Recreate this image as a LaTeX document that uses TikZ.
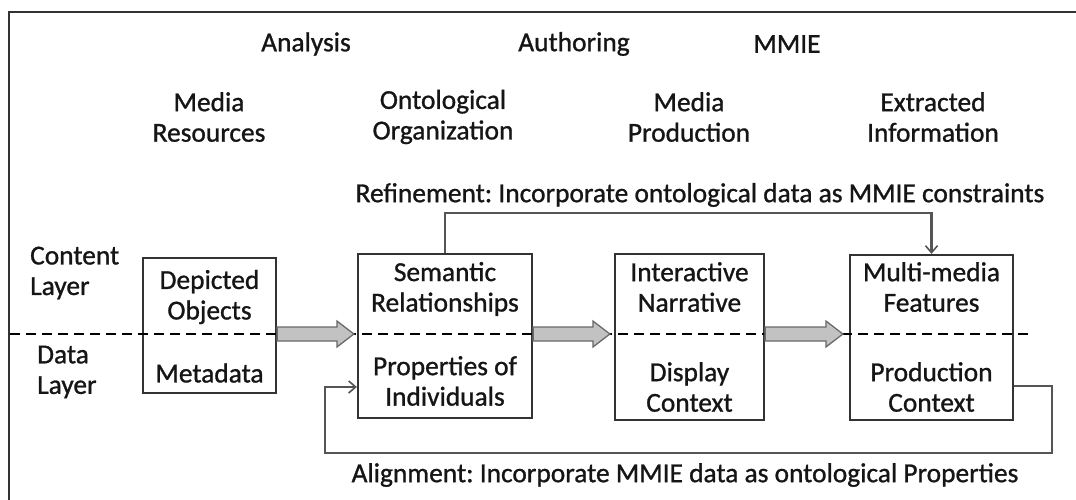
\documentclass[tikz,border=0pt]{standalone}
\usepackage{fontspec}
\setmainfont{Carlito}
\newfontface\lblface{Carlito}[FakeBold=1]
\usetikzlibrary{arrows.meta,calc}

\definecolor{ink}{HTML}{151515}
\definecolor{boxline}{HTML}{333333}
\definecolor{wire}{HTML}{555555}
\definecolor{blockfill}{HTML}{C2C2C2}
\definecolor{blockedge}{HTML}{6A6A6A}

\tikzset{
  lbl/.style={inner sep=0pt, text=ink, align=center,
    font=\lblface\fontsize{27.4}{30.5}\selectfont},
  layerbox/.style={draw=boxline, line width=2.2pt, inner sep=0pt},
  wireline/.style={draw=wire, line width=2.3pt},
  barb/.style={-{Straight Barb[length=7pt,width=12pt,line width=1.6pt]}},
  divider/.style={draw=black, line width=2.6pt, dash pattern=on 10pt off 6pt},
}

% gray block arrow between two points on the layer divider
\newcommand\blockarrow[2]{%
  \filldraw[fill=blockfill, draw=blockedge, line width=1.3pt]
    let \p1=(#1), \p2=(#2) in
    (\x1,\y1+7pt) -- (\x2-17pt,\y1+7pt) -- (\x2-17pt,\y1+13pt) -- (\x2,\y1)
    -- (\x2-17pt,\y1-13pt) -- (\x2-17pt,\y1-7pt) -- (\x1,\y1-7pt) -- cycle;}

\begin{document}
\begin{tikzpicture}[x=1pt,y=-1pt]
\useasboundingbox (0,0) rectangle (1076,499);
\clip (0,0) rectangle (1076,499);

% outer frame
\draw[line width=2.6pt, draw=boxline] (9,12) rectangle (1100,530);

% stage headings
\node[lbl] (hAna) at (306,44) {Analysis};
\node[lbl] (hAut) at (574,44) {Authoring};
\node[lbl] (hMM)  at (787,44) {MMIE};

\node[lbl] (cMR) at (209,117) {Media\\Resources};
\node[lbl] (cOO) at (443,117) {Ontological\\Organization};
\node[lbl] (cMP) at (689,117) {Media\\Production};
\node[lbl] (cEI) at (933,117) {Extracted\\Information};

% layer names
\node[lbl, align=left, anchor=west] (lC) at (30,273) {Content\\Layer};
\node[lbl, align=left, anchor=west] (lD) at (37,372) {Data\\Layer};

% stage boxes
\node[layerbox, minimum width=133pt, minimum height=135pt] (b1) at (209.5,325.5) {};
\node[layerbox, minimum width=174pt, minimum height=164pt] (b2) at (445,336) {};
\node[layerbox, minimum width=149pt, minimum height=166pt] (b3) at (689.5,337) {};
\node[layerbox, minimum width=163pt, minimum height=165pt] (b4) at (931.5,337.5) {};

% box contents
\node[lbl] (t1u) at (209.5,297) {Depicted\\Objects};
\node[lbl] (t1l) at (209.5,373) {Metadata};
\node[lbl] (t2u) at (445,289) {Semantic\\Relationships};
\node[lbl] (t2l) at (445,381) {Properties of\\Individuals};
\node[lbl] (t3u) at (689.5,287) {Interactive\\Narrative};
\node[lbl] (t3l) at (689.5,387) {Display\\Context};
\node[lbl] (t4u) at (931.5,287) {Multi-media\\Features};
\node[lbl] (t4l) at (931.5,387) {Production\\Context};

% layer divider
\coordinate (dl) at (10,334);
\coordinate (dr) at (1032,334);
\draw[divider] (dl) -- (dr);

% flow between stages
\blockarrow{b1.east |- dl}{$(b2.west |- dl)+(-3,0)$}
\blockarrow{b2.east |- dl}{$(b3.west |- dl)+(-4,0)$}
\blockarrow{b3.east |- dl}{$(b4.west |- dl)+(-6,0)$}

% refinement feedback
\coordinate (rf) at (0,213);
\draw[wireline, barb] (b2.north) -- (b2.north |- rf) -| (b4.north);
\node[lbl] (tRef) at (700,195) {Refinement:\hspace{-2pt} Incorporate ontological data as MMIE constraints};

% alignment feedback
\coordinate (al) at (1052,453);
\coordinate (ar) at (325,387);
\draw[wireline, barb] (b4.east |- 0,386) -| (al) -| (ar) -- (b2.west |- ar);
\node[lbl] (tAl) at (685,475) {Alignment:\hspace{-2pt} Incorporate MMIE data as ontological Properties};
\end{tikzpicture}
\end{document}
